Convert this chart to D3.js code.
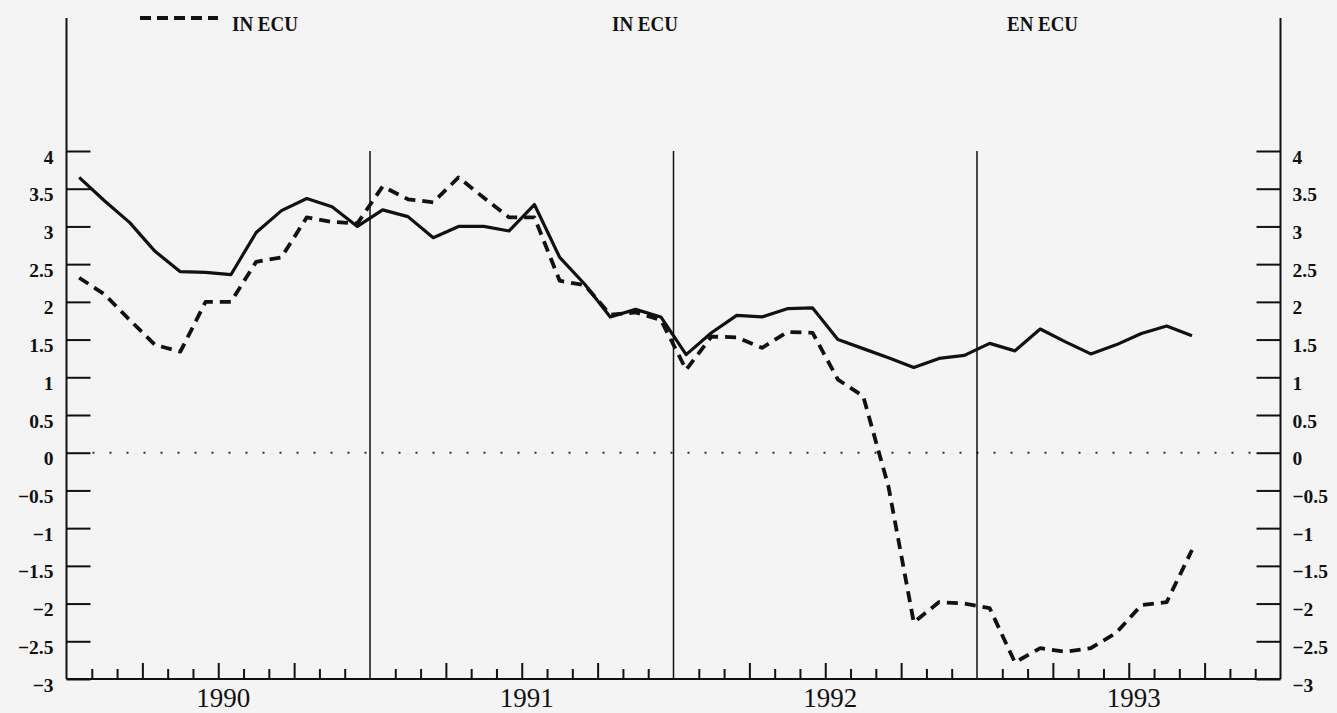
<!DOCTYPE html>
<html><head><meta charset="utf-8">
<script src="https://cdn.jsdelivr.net/npm/d3@7"></script>
<style>html,body{margin:0;padding:0;background:#f4f4f4;} svg{display:block}</style>
</head><body><svg id="c" width="1337" height="713"></svg>
<script>
// ---- data ----
const months = [
 "1990-01","1990-02","1990-03","1990-04","1990-05","1990-06","1990-07","1990-08","1990-09","1990-10","1990-11","1990-12",
 "1991-01","1991-02","1991-03","1991-04","1991-05","1991-06","1991-07","1991-08","1991-09","1991-10","1991-11","1991-12",
 "1992-01","1992-02","1992-03","1992-04","1992-05","1992-06","1992-07","1992-08","1992-09","1992-10","1992-11","1992-12",
 "1993-01","1993-02","1993-03","1993-04","1993-05","1993-06","1993-07","1993-08","1993-09"];
const solidSeries = [
 3.65,3.34,3.05,2.67,2.40,2.39,2.36,2.92,3.21,3.37,3.26,3.00,
 3.22,3.13,2.85,3.00,3.00,2.94,3.29,2.59,2.23,1.80,1.90,1.80,
 1.30,1.59,1.82,1.80,1.91,1.92,1.50,1.38,1.26,1.13,1.25,1.29,
 1.45,1.35,1.64,1.47,1.31,1.43,1.58,1.68,1.55];
const ecuSeries = [
 2.32,2.10,1.76,1.43,1.34,2.00,2.00,2.53,2.59,3.12,3.06,3.04,
 3.53,3.36,3.32,3.65,3.38,3.12,3.12,2.28,2.22,1.83,1.86,1.76,
 1.10,1.54,1.53,1.39,1.60,1.59,0.97,0.75,-0.45,-2.25,-1.98,-2.00,
 -2.06,-2.78,-2.59,-2.64,-2.59,-2.39,-2.02,-1.98,-1.29];
const yTicks = [-3,-2.5,-2,-1.5,-1,-0.5,0,0.5,1,1.5,2,2.5,3,3.5,4];
const yearLabels = ["1990","1991","1992","1993"];
const legendLabels = ["IN ECU","IN ECU","EN ECU"];

// ---- layout ----
const svg = d3.select("#c");
const L = 66.5, R = 1280.5, T = 151, B = 679, TOPLINE = 18;
const nMonths = yearLabels.length * 12;
const x = d3.scaleLinear().domain([0, nMonths]).range([L, R]);
const y = d3.scaleLinear().domain([-3, 4]).range([B, T]);
const idx = s => { const [yy, mm] = s.split("-").map(Number); return (yy - 1990) * 12 + (mm - 1) + 0.5; };
const fmt = v => String(v).replace("-", "\u2212");
const ink = "#111";

svg.append("rect").attr("width", 1337).attr("height", 713).attr("fill", "#f4f4f4");

// zero dotted line
svg.append("line").attr("x1", L + 26).attr("x2", R - 22).attr("y1", y(0)).attr("y2", y(0))
  .attr("stroke", "#333").attr("stroke-width", 2).attr("stroke-dasharray", "2,15");

// year separators
[1, 2, 3].forEach(k => {
  svg.append("line").attr("x1", x(k * 12)).attr("x2", x(k * 12)).attr("y1", y(4)).attr("y2", B)
    .attr("stroke", ink).attr("stroke-width", 1.5);
});

// frame lines
svg.append("line").attr("x1", L).attr("x2", L).attr("y1", TOPLINE).attr("y2", B).attr("stroke", ink).attr("stroke-width", 2);
svg.append("line").attr("x1", R).attr("x2", R).attr("y1", TOPLINE).attr("y2", B).attr("stroke", ink).attr("stroke-width", 2);
svg.append("line").attr("x1", L).attr("x2", R).attr("y1", B).attr("y2", B).attr("stroke", ink).attr("stroke-width", 2);

// y axes
const tickFont = "'Liberation Serif', 'DejaVu Serif', serif";
const gl = svg.append("g").attr("transform", `translate(${L},0)`)
  .call(d3.axisLeft(y).tickValues(yTicks).tickSize(-24).tickPadding(13).tickFormat(fmt));
const gr = svg.append("g").attr("transform", `translate(${R},0)`)
  .call(d3.axisRight(y).tickValues(yTicks).tickSize(-24).tickPadding(12).tickFormat(fmt));
[gl, gr].forEach(g => {
  g.select(".domain").remove();
  g.selectAll(".tick line").attr("stroke", ink).attr("stroke-width", 2);
  g.selectAll(".tick text").attr("fill", ink).attr("dy", "0.62em")
    .style("font-family", tickFont).style("font-size", "19.5px").style("font-weight", "bold");
});

// month ticks
const monthTicks = d3.range(1, nMonths).filter(m => m % 12 !== 0);
const gb = svg.append("g").attr("transform", `translate(0,${B})`)
  .call(d3.axisTop(x).tickValues(monthTicks).tickSize(10).tickFormat(""));
gb.select(".domain").remove();
gb.selectAll(".tick line").attr("stroke", ink).attr("stroke-width", 2)
  .attr("y2", d => d % 3 === 0 ? -16 : -10);

// year labels
yearLabels.forEach((lab, k) => {
  svg.append("text").attr("x", x(k * 12 + 6) + 5).attr("y", 707).attr("text-anchor", "middle")
    .attr("fill", ink).style("font-family", tickFont).style("font-size", "27px").text(lab);
});

// series
const line = d3.line().x((d, i) => x(idx(months[i]))).y(d => y(d));
svg.append("path").datum(solidSeries).attr("d", line).attr("fill", "none")
  .attr("stroke", ink).attr("stroke-width", 3.2).attr("stroke-linejoin", "round");
svg.append("path").datum(ecuSeries).attr("d", line).attr("fill", "none")
  .attr("stroke", ink).attr("stroke-width", 3.8).attr("stroke-dasharray", "11,7").attr("stroke-linejoin", "round");

// legend / titles
svg.append("line").attr("x1", 140).attr("x2", 218).attr("y1", 18).attr("y2", 18)
  .attr("stroke", ink).attr("stroke-width", 4).attr("stroke-dasharray", "11,6");
const titleX = [232, 612, 1007];
legendLabels.forEach((lab, k) => {
  svg.append("text").attr("x", titleX[k]).attr("y", 31).attr("fill", ink)
    .attr("textLength", k === 2 ? 71 : 66).attr("lengthAdjust", "spacingAndGlyphs")
    .style("font-family", tickFont).style("font-size", "21px").style("font-weight", "bold").text(lab);
});
</script>
</body></html>
